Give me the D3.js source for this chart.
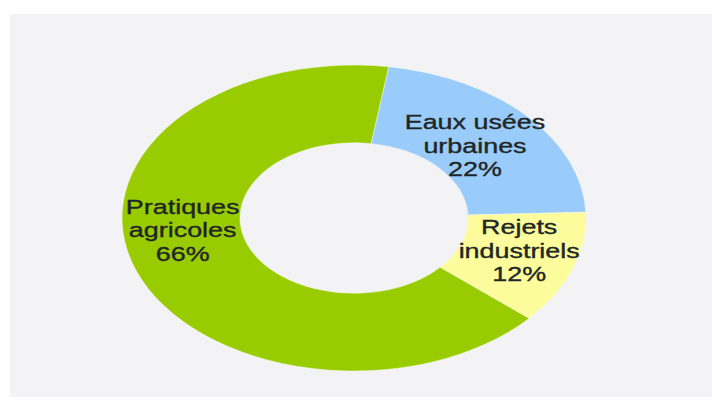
<!DOCTYPE html>
<html>
<head>
<meta charset="utf-8">
<script src="https://cdn.jsdelivr.net/npm/d3@7"></script>
<style>
  html, body { margin: 0; padding: 0; background: #ffffff; }
  svg { display: block; }
</style>
</head>
<body>
<svg id="chart" width="712" height="405"></svg>
<script>
// Sources de pollution de l'eau (part en %)
const categories = ["Eaux usées urbaines", "Rejets industriels", "Pratiques agricoles"];
const values = [22, 12, 66];
const labelLines = [["Eaux usées", "urbaines"], ["Rejets", "industriels"], ["Pratiques", "agricoles"]];
const colors = ["#99ccfa", "#fcfc9c", "#99cc00"];

const width = 712, height = 405;
const svg = d3.select("#chart");

// panel background
svg.append("rect")
  .attr("x", 10).attr("y", 14)
  .attr("width", width - 10).attr("height", 383)
  .attr("fill", "#f3f3f6");

// donut geometry (drawn as a circle, then flattened vertically)
const cx = 354, cy = 218;
const outerR = 232, innerR = 114;
const flatten = 153 / 232;
const start = 8.6 * Math.PI / 180;

const pie = d3.pie().sort(null).value(d => d)
  .startAngle(start).endAngle(start + 2 * Math.PI);
const arcs = pie(values);
const arc = d3.arc().innerRadius(innerR).outerRadius(outerR);

const ring = svg.append("g")
  .attr("transform", `translate(${cx},${cy}) scale(1,${flatten})`);

ring.selectAll("path")
  .data(arcs)
  .join("path")
  .attr("d", arc)
  .attr("fill", (d, i) => colors[i])
  .attr("stroke", "#f4f6ee")
  .attr("stroke-width", 0.6);

// labels: positioned from each slice's centroid, with small nudges
const nudges = [[-8, 11], [2, 2], [-9, -20]];
const lineGap = 23.5;
const textStretch = 1.38;

const labels = svg.append("g")
  .attr("font-family", "'Liberation Sans', Arial, sans-serif")
  .attr("font-size", "19.5px")
  .attr("fill", "#1f2626")
  .attr("stroke", "#1f2626")
  .attr("stroke-width", 0.35)
  .attr("text-anchor", "middle");

arcs.forEach((a, i) => {
  const [px, py] = arc.centroid(a);
  const x = cx + px + nudges[i][0];
  const y = cy + py * flatten + nudges[i][1];
  const lines = labelLines[i].concat([values[i] + "%"]);
  lines.forEach((t, j) => {
    labels.append("text")
      .attr("transform", `translate(${x},${y + (j - 1) * lineGap}) scale(${textStretch},1)`)
      .text(t);
  });
});
</script>
</body>
</html>
